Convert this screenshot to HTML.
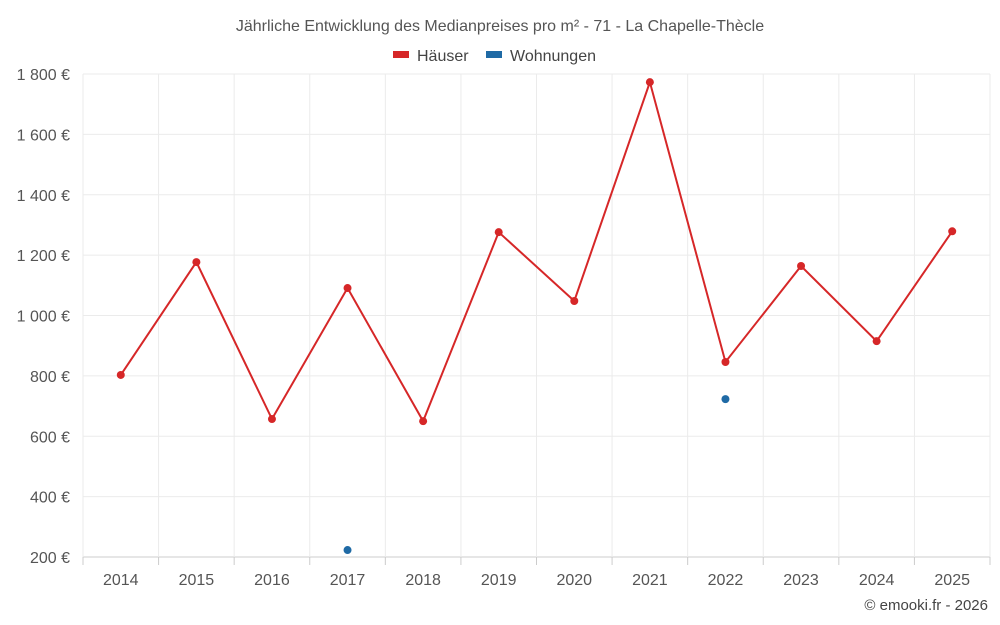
<!DOCTYPE html>
<html><head><meta charset="utf-8"><style>
body{margin:0;background:#fff;}
svg{display:block;font-family:"Liberation Sans",sans-serif;}
</style></head><body>
<svg id="chart" width="1000" height="625">
<text x="500" y="31" text-anchor="middle" font-size="16" fill="#555">Jährliche Entwicklung des Medianpreises pro m² - 71 - La Chapelle-Thècle</text>
<g>
<g><rect x="393" y="51" width="16" height="7" fill="#d62728"/><text x="417" y="61" font-size="16" fill="#444">Häuser</text></g>
<g><rect x="486" y="51" width="16" height="7" fill="#1f6aa5"/><text x="510" y="61" font-size="16" fill="#444">Wohnungen</text></g>
</g>
<g id="grid"></g><g id="axes"></g><g id="marks"></g>
<text x="988" y="610" text-anchor="end" font-size="15" fill="#444">© emooki.fr - 2026</text>
</svg>
<script>
const years=["2014","2015","2016","2017","2018","2019","2020","2021","2022","2023","2024","2025"];
const houses=[803,1177,657,1091,650,1276,1048,1773,846,1164,915,1279];
const flats=[null,null,null,223,null,null,null,null,723,null,null,null];
const yTicks=[200,400,600,800,1000,1200,1400,1600,1800];
const yLabels=["200 €","400 €","600 €","800 €","1 000 €","1 200 €","1 400 €","1 600 €","1 800 €"];
const L=83,R=990,T=74,B=557,ymin=200,ymax=1800;
const bw=(R-L)/years.length;
const X=i=>L+(i+0.5)*bw;
const Y=v=>B-(v-ymin)/(ymax-ymin)*(B-T);
const ns="http://www.w3.org/2000/svg";
function mk(tag,attrs,parent){const e=document.createElementNS(ns,tag);for(const k in attrs)e.setAttribute(k,attrs[k]);document.getElementById(parent).appendChild(e);return e;}
yTicks.forEach((t,i)=>{
 const l=mk("line",{x1:L,x2:R,y1:Y(t),y2:Y(t),stroke:i==0?"#ccc":"#ebebeb"},"grid");
 
 
 const tx=mk("text",{x:70,y:Y(t)+6,"text-anchor":"end","font-size":16,fill:"#555"},"axes");
 tx.textContent=yLabels[i];
 
 
});
for(let i=0;i<=years.length;i++){
 const l=mk("line",{x1:L+i*bw,x2:L+i*bw,y1:T,y2:B,stroke:"#ebebeb"},"grid");
 
 
 const tk=mk("line",{x1:L+i*bw,x2:L+i*bw,y1:B,y2:B+8,stroke:"#ccc"},"axes");
 
 
}
years.forEach((y,i)=>{
 const tx=mk("text",{x:X(i),y:585,"text-anchor":"middle","font-size":16,fill:"#555"},"axes");
 tx.textContent=y;
 
 
});
const p=mk("polyline",{points:houses.map((v,i)=>X(i)+","+Y(v)).join(" "),fill:"none",stroke:"#d62728","stroke-width":2},"marks");


houses.forEach((v,i)=>{
 const c=mk("circle",{cx:X(i),cy:Y(v),r:4,fill:"#d62728"},"marks");
 
 
});
flats.forEach((v,i)=>{
 if(v==null)return;
 const c=mk("circle",{cx:X(i),cy:Y(v),r:4,fill:"#1f6aa5"},"marks");
 
 
});
</script>
</body></html>
